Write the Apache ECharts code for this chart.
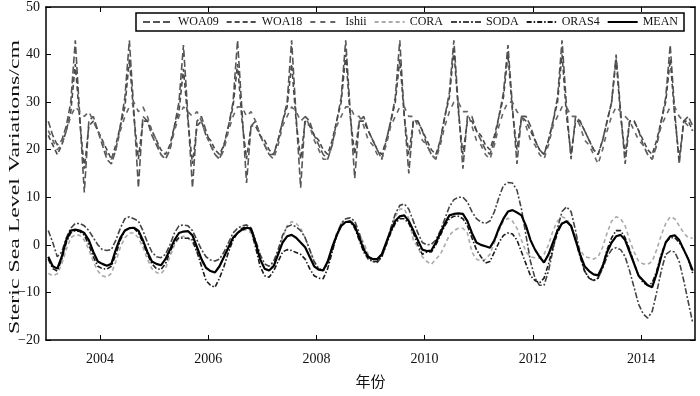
<!DOCTYPE html>
<html>
<head>
<meta charset="utf-8">
<script src="https://cdn.jsdelivr.net/npm/echarts@6/dist/echarts.min.js"></script>
<style>
  html, body { margin: 0; padding: 0; background: #fff; }
  #chart { width: 700px; height: 396px; }
</style>
</head>
<body>
<div id="chart"></div>
<script>
// monthly values, Jan 2003 .. Dec 2014 (one row per year)
const startYear = 2003;
const xTicks = [2004, 2006, 2008, 2010, 2012, 2014];
const yTicks = [-20, -10, 0, 10, 20, 30, 40, 50];

const woa09 = [
  26, 23, 21, 22, 25, 30, 43, 27, 11, 26, 27, 24,
  21, 18, 17, 20, 25, 31, 43, 28, 12, 27, 26, 23,
  21, 19, 18, 20, 25, 30, 42, 27, 12, 26, 27, 24,
  21, 19, 18, 21, 25, 30, 43, 28, 13, 25, 26, 23,
  21, 19, 19, 22, 26, 30, 43, 27, 12, 27, 26, 23,
  21, 19, 18, 21, 26, 31, 43, 28, 14, 26, 27, 24,
  22, 20, 18, 22, 26, 31, 43, 27, 15, 26, 26, 24,
  21, 19, 18, 22, 27, 32, 43, 29, 16, 27, 27, 24,
  22, 20, 19, 22, 27, 32, 42, 29, 17, 27, 27, 25,
  22, 20, 19, 22, 26, 31, 43, 29, 18, 27, 26, 24,
  22, 20, 19, 22, 26, 30, 40, 28, 17, 26, 26, 24,
  21, 19, 18, 21, 26, 31, 42, 28, 17, 26, 27, 25
];
const woa18 = [
  23, 21, 19, 21, 24, 28, 38, 26, 16, 25, 26, 24,
  22, 20, 18, 21, 25, 29, 39, 27, 18, 26, 26, 24,
  22, 20, 19, 21, 25, 28, 37, 26, 17, 25, 26, 23,
  22, 20, 19, 21, 25, 29, 38, 26, 18, 25, 25, 23,
  22, 20, 19, 22, 26, 29, 38, 26, 18, 26, 25, 23,
  22, 20, 19, 22, 26, 30, 40, 27, 19, 26, 26, 24,
  22, 20, 19, 22, 26, 30, 39, 27, 19, 26, 26, 24,
  22, 20, 19, 22, 27, 31, 41, 28, 19, 26, 26, 24,
  23, 21, 20, 23, 27, 31, 40, 28, 20, 27, 26, 24,
  22, 20, 19, 22, 26, 30, 40, 27, 19, 26, 26, 24,
  22, 20, 19, 22, 26, 30, 39, 27, 19, 26, 26, 24,
  22, 20, 19, 22, 26, 30, 39, 27, 18, 26, 26, 24
];
const ishii = [
  24, 22, 20, 21, 24, 27, 29, 28, 27, 28, 26, 24,
  22, 19, 18, 20, 24, 27, 29, 30, 28, 29, 27, 24,
  22, 19, 18, 20, 24, 27, 29, 28, 27, 28, 26, 23,
  21, 19, 18, 20, 24, 27, 29, 29, 27, 28, 26, 23,
  21, 19, 18, 21, 25, 27, 29, 28, 26, 27, 25, 22,
  20, 18, 18, 21, 25, 27, 29, 29, 27, 27, 25, 22,
  21, 19, 18, 21, 25, 27, 29, 29, 27, 27, 25, 22,
  21, 19, 18, 21, 25, 28, 30, 30, 28, 28, 25, 22,
  21, 19, 18, 21, 25, 28, 30, 30, 28, 27, 25, 22,
  21, 19, 18, 21, 25, 27, 29, 29, 27, 27, 25, 22,
  21, 19, 17, 20, 24, 27, 29, 28, 27, 26, 24, 22,
  21, 19, 18, 21, 25, 27, 29, 29, 27, 26, 25, 24
];
const cora = [
  -6.0, -6.5, -6.1, -4.0, -1.0, 1.5, 2.1, 2.0, 1.0, -1.0, -3.5, -5.5,
  -6.5, -6.8, -6.0, -3.5, -0.5, 1.5, 2.5, 2.5, 1.5, -0.5, -3.0, -5.0,
  -5.8, -6.1, -5.0, -2.5, 0.0, 1.5, 1.8, 1.5, 0.5, -1.5, -3.5, -5.0,
  -5.5, -5.8, -4.5, -2.5, -0.5, 1.5, 2.5, 3.0, 3.2, 2.5, 0.0, -3.0,
  -5.0, -5.4, -4.0, -1.5, 1.5, 4.0, 4.9, 4.5, 3.5, 1.5, -1.0, -3.5,
  -5.0, -5.2, -3.5, -0.5, 2.5, 4.5, 5.5, 5.6, 4.0, 2.0, 0.5, -2.0,
  -3.0, -3.4, -2.0, 0.5, 3.5, 6.0, 7.5, 7.6, 5.5, 1.0, -0.5, -2.5,
  -3.5, -4.1, -3.0, -2.0, 0.0, 2.0, 3.0, 3.5, 3.5, 2.5, -1.5, -3.0,
  -3.4, -3.0, -2.0, 0.5, 3.0, 5.0, 5.6, 5.0, 3.5, 1.0, -1.5, -2.5,
  -2.7, -2.8, -2.0, 0.0, 3.0, 5.0, 5.9, 5.5, 4.0, 1.5, -1.0, -2.5,
  -2.7, -3.0, -2.5, -0.5, 2.5, 5.0, 5.9, 5.5, 4.0, 1.0, -1.5, -3.5,
  -4.0, -4.1, -3.5, -1.0, 2.0, 4.5, 5.9, 5.5, 4.0, 2.5, 1.5, 1.4
];
const soda = [
  3.0, 0.5, -2.5, -1.5, 1.5, 3.5, 4.5, 4.5, 4.0, 3.0, 1.5, 0.0,
  -1.0, -1.2, -1.0, 1.0, 3.5, 5.5, 5.9, 5.5, 5.0, 3.0, 0.5, -1.5,
  -2.5, -2.7, -2.0, 0.0, 2.5, 4.0, 4.2, 4.0, 3.0, 1.0, -1.0, -2.5,
  -3.2, -3.4, -3.0, -1.5, 0.5, 2.5, 3.5, 4.0, 4.2, 3.5, 1.0, -2.0,
  -4.0, -4.5, -3.5, -1.0, 2.0, 3.8, 4.2, 3.8, 3.0, 1.5, -1.0, -3.5,
  -5.0, -5.4, -4.0, -1.0, 2.0, 4.5, 5.5, 5.7, 5.0, 2.5, -0.5, -2.5,
  -3.5, -3.7, -2.5, 0.0, 3.5, 6.5, 8.3, 8.6, 7.5, 5.0, 2.5, 0.5,
  0.0, 0.1, 1.0, 3.0, 5.5, 8.0, 9.5, 10.0, 10.0, 9.0, 7.0, 5.5,
  4.8, 4.5, 5.0, 7.0, 10.0, 12.5, 13.1, 13.0, 11.5, 7.5, 2.0, -3.5,
  -7.0, -8.5, -8.5, -5.5, -1.0, 3.5, 7.0, 8.0, 7.0, 3.0, -2.0, -5.5,
  -7.0, -7.5, -7.0, -5.0, -2.5, -1.0, -0.6, -1.0, -2.5, -5.5, -9.0, -12.5,
  -14.5, -15.4, -14.0, -10.0, -5.5, -2.0, -1.3, -1.5, -3.5, -7.5, -12.0, -16.4
];
const oras4 = [
  -3.0, -5.0, -5.5, -3.0, 0.5, 2.5, 3.0, 2.8, 2.0, 0.0, -2.5, -4.5,
  -5.0, -5.1, -4.5, -2.0, 1.0, 3.0, 3.5, 3.5, 2.5, 0.5, -2.0, -4.0,
  -5.0, -5.2, -4.0, -1.5, 0.5, 1.5, 1.4, 1.4, 1.0, -1.5, -4.5, -7.5,
  -8.5, -8.9, -7.0, -4.5, -1.5, 1.0, 2.5, 3.5, 3.8, 3.0, -0.5, -4.5,
  -6.5, -6.8, -5.5, -3.5, -1.5, -1.0, -1.2, -1.6, -2.0, -3.0, -5.0, -6.5,
  -7.0, -7.1, -5.0, -1.5, 2.0, 4.0, 4.8, 5.0, 3.5, 1.0, -1.5, -3.0,
  -3.5, -3.5, -2.5, 0.0, 2.5, 4.5, 5.5, 5.5, 4.5, 2.5, 0.0, -2.0,
  -1.5, -1.5, 0.0, 2.0, 4.0, 5.5, 6.0, 6.0, 5.5, 4.0, 1.5, -1.0,
  -2.5, -3.8, -3.5, -1.5, 0.5, 2.0, 2.5, 2.3, 1.0, -1.5, -4.0, -6.5,
  -7.5, -8.0, -7.0, -4.0, -0.5, 2.5, 4.5, 5.0, 4.0, 1.0, -2.5, -5.5,
  -7.0, -7.5, -7.0, -4.5, -1.0, 1.5, 3.0, 3.0, 1.5, -1.0, -4.0, -6.5,
  -8.0, -8.5, -8.0, -5.5, -2.0, 0.5, 1.5, 1.5, 0.5, -1.0, -3.0, -6.0
];
const mean = [
  -2.5, -4.5, -5.0, -2.5, 1.0, 3.0, 3.2, 3.0, 2.5, 1.0, -1.5, -3.5,
  -4.0, -4.4, -4.0, -1.0, 1.5, 3.0, 3.5, 3.6, 3.0, 1.0, -1.5, -3.5,
  -4.0, -4.3, -3.0, -1.0, 1.0, 2.5, 2.8, 2.9, 2.0, -0.5, -3.0, -4.8,
  -5.5, -5.8, -4.5, -2.5, -0.5, 1.5, 2.5, 3.2, 3.6, 3.4, 0.5, -3.0,
  -5.0, -5.4, -4.5, -2.0, 0.5, 1.8, 2.1, 1.5, 0.5, -0.5, -2.5, -4.5,
  -5.2, -5.4, -3.5, -0.5, 2.0, 4.0, 4.8, 4.9, 4.0, 1.5, -1.0, -2.5,
  -3.0, -3.0, -2.0, 0.5, 3.0, 5.0, 6.0, 6.2, 5.0, 3.0, 1.0, -1.0,
  -1.3, -1.2, 0.5, 2.5, 4.5, 6.2, 6.5, 6.6, 6.5, 5.0, 2.5, 0.5,
  0.0, -0.3, -0.6, 1.0, 3.5, 5.5, 7.0, 7.3, 6.8, 6.2, 4.0, 1.0,
  -1.0, -2.5, -3.7, -2.0, 0.5, 3.0, 4.5, 4.9, 4.0, 1.0, -2.0, -4.5,
  -5.5, -6.2, -6.4, -4.5, -1.5, 0.5, 1.8, 2.1, 1.0, -1.5, -4.0, -6.5,
  -7.5, -8.5, -8.9, -6.0, -2.5, 0.5, 1.8, 2.0, 1.0, -1.0, -3.0, -5.4
];

const fontLatin = 'Liberation Serif';
const fontCjk = 'Liberation Serif, Noto Sans CJK SC';

// pair each monthly value with its mid-month position in years
function toPairs(values) {
  return values.map((v, i) => [startYear + (i + 0.5) / 12, v]);
}

function makeLine(name, values, color, width, dash) {
  return {
    name: name,
    type: 'line',
    symbol: 'none',
    silent: true,
    xAxisIndex: 0,
    yAxisIndex: 0,
    lineStyle: { color: color, width: width, type: dash },
    itemStyle: { color: color },
    data: toPairs(values)
  };
}

const chart = echarts.init(document.getElementById('chart'));

const frameLine = { show: true, onZero: false, lineStyle: { color: '#000', width: 1.5 } };
const innerTick = { show: true, inside: true, length: 5, lineStyle: { color: '#000', width: 1 } };

const option = {
  animation: false,
  backgroundColor: '#fff',
  grid: { left: 46, right: 5, top: 5, bottom: 52 },
  // the source figure is stretched vertically, so the rotated y title is drawn long
  graphic: [
    {
      type: 'text',
      x: 15,
      y: 187,
      rotation: Math.PI / 2,
      scaleX: 1.7,
      silent: true,
      style: {
        text: 'Steric Sea Level Variations/cm',
        fontFamily: fontLatin,
        fontSize: 14,
        fill: '#111',
        align: 'center',
        verticalAlign: 'middle'
      }
    }
  ],
  legend: {
    top: 13,
    right: 16,
    padding: [3, 6, 3, 6],
    itemWidth: 30,
    itemHeight: 12,
    itemGap: 7,
    borderColor: '#000',
    borderWidth: 1.5,
    backgroundColor: '#fff',
    itemStyle: { opacity: 0 },
    textStyle: { fontFamily: fontLatin, fontSize: 12, color: '#111' },
    data: ['WOA09', 'WOA18', 'Ishii', 'CORA', 'SODA', 'ORAS4', 'MEAN']
  },
  xAxis: [
    {
      type: 'value',
      min: 2003,
      max: 2015,
      name: '年份',
      nameLocation: 'middle',
      nameGap: 36,
      nameTextStyle: { fontFamily: fontCjk, fontSize: 15, color: '#111' },
      axisLine: frameLine,
      axisTick: Object.assign({ customValues: xTicks }, innerTick),
      axisLabel: {
        customValues: xTicks,
        margin: 12,
        fontFamily: fontLatin,
        fontSize: 14,
        color: '#111',
        formatter: (v) => String(v)
      },
      splitLine: { show: false }
    },
    {
      type: 'value',
      position: 'top',
      min: 2003,
      max: 2015,
      axisLine: frameLine,
      axisTick: Object.assign({ customValues: xTicks }, innerTick),
      axisLabel: { show: false },
      splitLine: { show: false }
    }
  ],
  yAxis: [
    {
      type: 'value',
      min: -20,
      max: 50,
      interval: 10,
      axisLine: frameLine,
      axisTick: innerTick,
      axisLabel: {
        margin: 6,
        fontFamily: fontLatin,
        fontSize: 14,
        color: '#111',
        formatter: (v) => (v < 0 ? '\u2212' + Math.abs(v) : String(v))
      },
      splitLine: { show: false }
    },
    {
      type: 'value',
      position: 'right',
      min: -20,
      max: 50,
      interval: 10,
      axisLine: frameLine,
      axisTick: innerTick,
      axisLabel: { show: false },
      splitLine: { show: false }
    }
  ],
  series: [
    makeLine('WOA09', woa09, '#555', 1.6, [7, 3]),
    makeLine('WOA18', woa18, '#4a4a4a', 1.6, [5, 3]),
    makeLine('Ishii', ishii, '#666', 1.6, [5, 5]),
    makeLine('CORA', cora, '#aaa', 1.6, [4, 3]),
    makeLine('SODA', soda, '#444', 1.6, [6, 2, 2, 2]),
    makeLine('ORAS4', oras4, '#1a1a1a', 1.6, [5, 2, 1.5, 2]),
    makeLine('MEAN', mean, '#000', 2.2, 'solid')
  ]
};

chart.setOption(option);
</script>
</body>
</html>
